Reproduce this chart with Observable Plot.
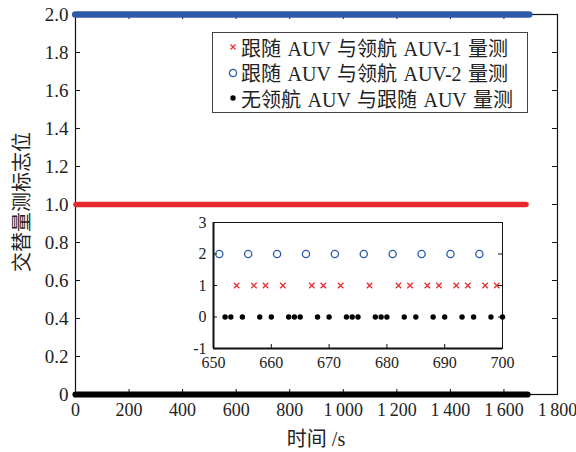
<!DOCTYPE html>
<html>
<head>
<meta charset="utf-8">
<script src="https://cdn.jsdelivr.net/npm/d3@7"></script>
<script src="https://cdn.jsdelivr.net/npm/@observablehq/plot@0.6"></script>
<style>
  body { margin: 0; background: #fff; }
  #fig { position: relative; width: 576px; height: 452px; overflow: hidden;
         font-family: "Liberation Serif", "Noto Sans CJK SC", serif; color: #222; }
  #fig > svg { position: absolute; }
  .title { position: absolute; font-size: 20px; white-space: nowrap; transform: translate(-50%, -50%); }
  #legend { position: absolute; left: 212px; top: 32px; width: 316px; height: 81px;
            border: 1.3px solid #444; background: #fff; box-sizing: border-box; }
  .row { position: absolute; left: 14px; height: 24px; display: flex; align-items: center;
         font-size: 20px; word-spacing: 1.5px; white-space: nowrap; }
  .row svg { margin-right: 2px; }
</style>
</head>
<body>
<div id="fig"></div>
<script>
// Series: measurement type, flag level, colour
const seriesNames = ["跟随 AUV 与领航 AUV-1 量测", "跟随 AUV 与领航 AUV-2 量测", "无领航 AUV 与跟随 AUV 量测"];
const seriesFlags = [1, 2, 0];
const seriesColors = ["#e8282b", "#2c5aab", "#000000"];
const seriesSymbols = ["times", "circle", "dot"];

// Full-run extent of each series (s); markers are dense enough to merge into bands
const runStart = [4, 1, 2];
const runEnd = [1684, 1696, 1690];

// Detail window 650–700 s: measurement instants of each series
const detailAUV1 = [654, 657, 659, 662, 667, 669, 672, 677, 682, 684, 687, 689, 692, 694, 697, 699];
const detailAUV2 = [651, 656, 661, 666, 671, 676, 681, 686, 691, 696];
const detailNone = [652, 653, 655, 658, 660, 663, 664, 665, 668, 670, 673, 674, 675, 678, 679, 680,
                    683, 685, 688, 690, 693, 695, 698, 700];

// Axis ticks
const xTicks = [0, 200, 400, 600, 800, 1000, 1200, 1400, 1600, 1800];
const yTicks = [0, 0.2, 0.4, 0.6, 0.8, 1.0, 1.2, 1.4, 1.6, 1.8, 2.0];
const xTicksDetail = [650, 660, 670, 680, 690, 700];
const yTicksDetail = [-1, 0, 1, 2, 3];

const xLabel = "时间 /s";
const yLabel = "交替量测标志位";

const font = "'Liberation Serif', 'Noto Sans CJK SC', serif";
const fmtX = d => d >= 1000 ? String(d).replace(/(\d)(\d{3})$/, "$1\u2009$2") : String(d);
const fmtY = d => d === 0 ? "0" : d.toFixed(1);

const runs = seriesNames.map((name, i) => ({name, flag: seriesFlags[i], start: runStart[i], end: runEnd[i], color: seriesColors[i]}));
const bandWidth = [5.6, 6.6, 6.2];

// main frame geometry (pixels)
const W = 576, H = 452, mL = 75, mR = 19, mT = 14, mB = 58;
const fw = W - mL - mR, fh = H - mT - mB, tk = 5;

const main = Plot.plot({
  width: W, height: H,
  marginLeft: mL, marginRight: mR, marginTop: mT, marginBottom: mB,
  style: {fontFamily: font, fontSize: "18px", color: "#222", background: "transparent", overflow: "visible"},
  x: {domain: [0, 1800]},
  y: {domain: [0, 2]},
  marks: [
    Plot.frame({stroke: "#111", strokeWidth: 1.2}),
    Plot.axisX(xTicks, {anchor: "bottom", tickSize: 0, tickPadding: 9, tickFormat: fmtX, label: null}),
    Plot.axisY(yTicks, {anchor: "left", tickSize: 0, tickPadding: 7, tickFormat: fmtY, label: null, fontSize: 19}),
    // inward ticks on all four sides
    Plot.tickX(xTicks, {x: d => d, insetTop: fh - tk, stroke: "#111"}),
    Plot.tickX(xTicks, {x: d => d, insetBottom: fh - tk, stroke: "#111"}),
    Plot.tickY(yTicks, {y: d => d, insetRight: fw - tk, stroke: "#111"}),
    Plot.tickY(yTicks, {y: d => d, insetLeft: fw - tk, stroke: "#111"}),
    ...runs.map((r, i) => Plot.ruleY([r], {
      y: "flag", x1: "start", x2: "end", stroke: r.color,
      strokeWidth: bandWidth[i], strokeLinecap: "round"
    }))
  ]
});

const pts = [
  ...detailAUV1.map(t => ({t, flag: seriesFlags[0]})),
  ...detailAUV2.map(t => ({t, flag: seriesFlags[1]})),
  ...detailNone.map(t => ({t, flag: seriesFlags[2]}))
];

const dW = 345, dH = 175, dL = 33, dR = 23, dT = 17, dB = 32;
const dfw = dW - dL - dR, dfh = dH - dT - dB, dtk = 4;

const detail = Plot.plot({
  width: dW, height: dH,
  marginLeft: dL, marginRight: dR, marginTop: dT, marginBottom: dB,
  style: {fontFamily: font, fontSize: "16px", color: "#222", background: "transparent", overflow: "visible"},
  x: {domain: [650, 700]},
  y: {domain: [-1, 3]},
  marks: [
    Plot.frame({fill: "#fff", stroke: "#111", strokeWidth: 1}),
    Plot.ruleX([650], {strokeWidth: 2, stroke: "#111"}),
    Plot.ruleY([-1], {strokeWidth: 2, stroke: "#111"}),
    Plot.axisX(xTicksDetail, {anchor: "bottom", tickSize: 0, tickPadding: 8, label: null}),
    Plot.axisY(yTicksDetail, {anchor: "left", tickSize: 0, tickPadding: 7, label: null, tickFormat: d => String(d)}),
    Plot.tickX(xTicksDetail, {x: d => d, insetTop: dfh - dtk, stroke: "#111"}),
    Plot.tickY(yTicksDetail, {y: d => d, insetRight: dfw - dtk, stroke: "#111"}),
    Plot.tickY(yTicksDetail, {y: d => d, insetLeft: dfw - dtk, stroke: "#111"}),
    Plot.dot(pts.filter(d => d.flag === seriesFlags[1]), {x: "t", y: "flag", r: 3.6, stroke: seriesColors[1], strokeWidth: 1.3, fill: "none"}),
    Plot.dot(pts.filter(d => d.flag === seriesFlags[0]), {x: "t", y: "flag", r: 2.6, symbol: "times", stroke: seriesColors[0], strokeWidth: 1.2}),
    Plot.dot(pts.filter(d => d.flag === seriesFlags[2]), {x: "t", y: "flag", r: 2.7, fill: seriesColors[2], stroke: "none"})
  ]
});

const fig = document.getElementById("fig");
main.style.left = "0px"; main.style.top = "0px";
fig.appendChild(main);
detail.style.left = "180px"; detail.style.top = "205px";
fig.appendChild(detail);

// Axis titles
const xt = document.createElement("div");
xt.className = "title"; xt.textContent = xLabel;
xt.style.left = "316px"; xt.style.top = "437px";
fig.appendChild(xt);
const yt = document.createElement("div");
yt.className = "title"; yt.textContent = yLabel;
yt.style.left = "20px"; yt.style.top = "202px";
yt.style.transform = "translate(-50%, -50%) rotate(-90deg)";
fig.appendChild(yt);

// Legend
const legend = document.createElement("div");
legend.id = "legend";
const ns = "http://www.w3.org/2000/svg";
[0, 1, 2].forEach((i, k) => {
  const row = document.createElement("div");
  row.className = "row";
  row.style.top = (2 + k * 25.5) + "px";
  const s = document.createElementNS(ns, "svg");
  s.setAttribute("width", 12); s.setAttribute("height", 12);
  let el;
  if (seriesSymbols[i] === "times") {
    el = document.createElementNS(ns, "path");
    el.setAttribute("d", "M3.5,3.5L8.5,8.5M8.5,3.5L3.5,8.5");
    el.setAttribute("stroke", seriesColors[i]); el.setAttribute("stroke-width", "1.2");
  } else if (seriesSymbols[i] === "circle") {
    el = document.createElementNS(ns, "circle");
    el.setAttribute("cx", 6); el.setAttribute("cy", 6); el.setAttribute("r", 3.6);
    el.setAttribute("fill", "none"); el.setAttribute("stroke", seriesColors[i]); el.setAttribute("stroke-width", "1.3");
  } else {
    el = document.createElementNS(ns, "circle");
    el.setAttribute("cx", 6); el.setAttribute("cy", 6); el.setAttribute("r", 2.7);
    el.setAttribute("fill", seriesColors[i]);
  }
  s.appendChild(el);
  row.appendChild(s);
  const span = document.createElement("span");
  span.textContent = seriesNames[i];
  row.appendChild(span);
  legend.appendChild(row);
});
fig.appendChild(legend);
</script>
</body>
</html>
